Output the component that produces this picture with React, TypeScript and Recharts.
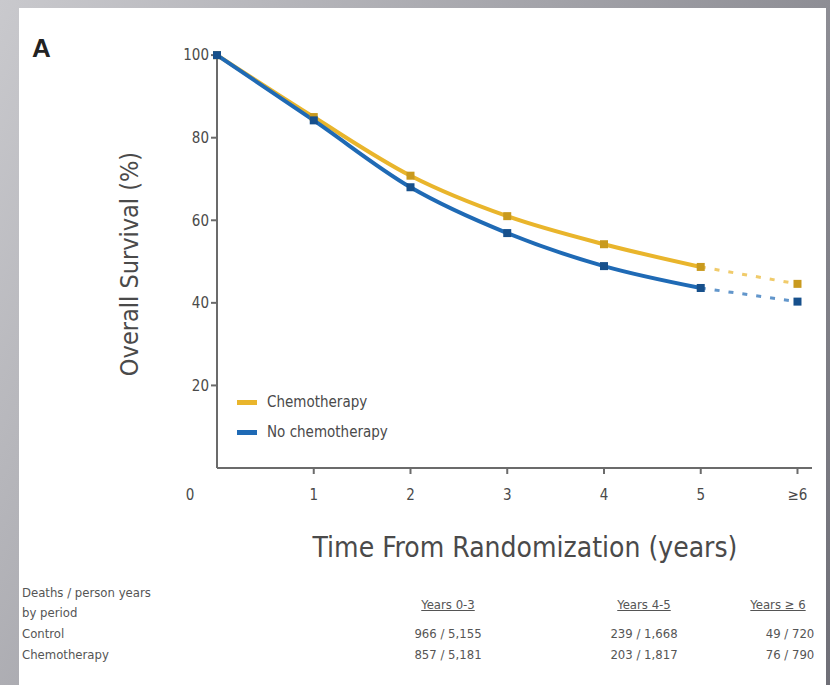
import React from 'react';
import {
  LineChart,
  Line,
  XAxis,
  YAxis,
} from 'recharts';

// time points (years), last one is the ">= 6" bucket
const years = [0, 1, 2, 3, 4, 5, 6];
const xTickLabels = ['0', '1', '2', '3', '4', '5', '≥6'];
const yTicks = [20, 40, 60, 80, 100];

// overall survival (%)
const chemoSurvival = [100, 85, 70.8, 61, 54.2, 48.7, 44.6];
const noChemoSurvival = [100, 84.2, 68, 56.9, 48.9, 43.6, 40.3];

const legendItems = [
  { label: 'Chemotherapy', color: '#E9B52C' },
  { label: 'No chemotherapy', color: '#1F6AB5' },
];

// deaths / person years table
const periodHeaders = ['Years 0-3', 'Years 4-5', 'Years ≥ 6'];
const controlDeaths = ['966 / 5,155', '239 / 1,668', '49 / 720'];
const chemoDeaths = ['857 / 5,181', '203 / 1,817', '76 / 790'];

const CHEMO = '#E9B52C';
const CHEMO_DOT = '#C99A1E';
const NOCHEMO = '#1F6AB5';
const NOCHEMO_DOT = '#17508C';
const AXIS = '#6b6b6b';
const TEXT = '#4a4a4a';
const NARROW = "'Liberation Sans Narrow', 'DejaVu Sans Condensed', Arial, sans-serif";

// solid part runs to year 5, the dashed tail from 5 to >=6
const data = years.map((t, i) => ({
  t,
  chemo: t <= 5 ? chemoSurvival[i] : null,
  chemoTail: t >= 5 ? chemoSurvival[i] : null,
  noChemo: t <= 5 ? noChemoSurvival[i] : null,
  noChemoTail: t >= 5 ? noChemoSurvival[i] : null,
}));

const squareDot = (color: string, onlyLast = false) => (props: any) => {
  const { cx, cy, payload, index } = props;
  if (cx == null || cy == null || (onlyLast && payload.t !== 6)) {
    return <g key={`d-${index}`} />;
  }
  return <rect key={`d-${index}`} x={cx - 4} y={cy - 4} width={8} height={8} fill={color} />;
};

const XTick = (props: any) => {
  const { x, y, payload } = props;
  const i = years.indexOf(payload.value);
  const dx = payload.value === 0 ? -27 : 0;
  return (
    <g>
      {payload.value !== 0 && <line x1={x} x2={x} y1={y - 8} y2={y - 2} stroke={AXIS} strokeWidth={2} />}
      <text x={x + dx} y={y + 24} textAnchor="middle" fontSize={15} fill={TEXT} fontFamily={NARROW}>
        {xTickLabels[i]}
      </text>
    </g>
  );
};

const tableText: React.CSSProperties = {
  position: 'absolute',
  fontFamily: NARROW,
  fontSize: 13,
  color: '#555',
  whiteSpace: 'nowrap',
};

const colCenters = [448, 644, 778];

export default function App() {
  return (
    <div
      style={{
        position: 'absolute',
        left: 0,
        top: 0,
        width: 830,
        height: 685,
        background: 'linear-gradient(120deg, #c9c9cd 0%, #a3a3a9 45%, #6f6f77 100%)',
        overflow: 'hidden',
      }}
    >
      <div style={{ position: 'absolute', left: 19, top: 8, width: 807, height: 677, background: '#ffffff' }} />

      <div style={{ position: 'absolute', left: 0, top: 0 }}>
        <LineChart
          width={830}
          height={685}
          data={data}
          margin={{ top: 51, right: 18, left: 157, bottom: 187 }}
        >
          <XAxis
            dataKey="t"
            type="number"
            domain={[0, 6.15]}
            ticks={years}
            tick={<XTick />}
            tickLine={false}
            axisLine={{ stroke: AXIS, strokeWidth: 2 }}
            height={30}
          />
          <YAxis
            type="number"
            domain={[0, 101]}
            ticks={yTicks}
            width={60}
            axisLine={{ stroke: AXIS, strokeWidth: 2 }}
            tickLine={{ stroke: AXIS, strokeWidth: 2 }}
            tickSize={6}
            tick={{ fontSize: 15, fill: TEXT, fontFamily: NARROW }}
          />
          <Line type="monotone" dataKey="chemo" stroke={CHEMO} strokeWidth={4} dot={squareDot(CHEMO_DOT)} connectNulls={false} isAnimationActive={false} />
          <Line type="monotone" dataKey="chemoTail" stroke={CHEMO} strokeWidth={3} strokeDasharray="5 9" strokeOpacity={0.7} dot={squareDot(CHEMO_DOT, true)} isAnimationActive={false} />
          <Line type="monotone" dataKey="noChemo" stroke={NOCHEMO} strokeWidth={4} dot={squareDot(NOCHEMO_DOT)} connectNulls={false} isAnimationActive={false} />
          <Line type="monotone" dataKey="noChemoTail" stroke={NOCHEMO} strokeWidth={3} strokeDasharray="5 9" strokeOpacity={0.7} dot={squareDot(NOCHEMO_DOT, true)} isAnimationActive={false} />
        </LineChart>
      </div>

      {/* legend inside the plot, lower left */}
      <div style={{ position: 'absolute', left: 237, top: 387, fontFamily: NARROW, fontSize: 15, color: TEXT }}>
        {legendItems.map((item) => (
          <div key={item.label} style={{ display: 'flex', alignItems: 'center', height: 30 }}>
            <span style={{ display: 'inline-block', width: 20, height: 5, background: item.color, marginRight: 10 }} />
            {item.label}
          </div>
        ))}
      </div>

      {/* panel letter and axis titles */}
      <div style={{ position: 'absolute', left: 32, top: 33, fontFamily: 'Arial, sans-serif', fontWeight: 700, fontSize: 26, color: '#222' }}>
        A
      </div>
      <svg style={{ position: 'absolute', left: 0, top: 0 }} width={830} height={685}>
        <text
          transform="translate(138, 264) rotate(-90)"
          textAnchor="middle"
          fontSize={25}
          fill={TEXT}
          fontFamily={NARROW}
        >
          Overall Survival (%)
        </text>
        <text x={525} y={557} textAnchor="middle" fontSize={28} fill={TEXT} fontFamily={NARROW}>
          Time From Randomization (years)
        </text>
      </svg>

      {/* deaths / person years by period */}
      <div style={{ ...tableText, left: 22, top: 585 }}>Deaths / person years</div>
      <div style={{ ...tableText, left: 22, top: 605 }}>by period</div>
      <div style={{ ...tableText, left: 22, top: 626 }}>Control</div>
      <div style={{ ...tableText, left: 22, top: 647 }}>Chemotherapy</div>
      {periodHeaders.map((h, i) => (
        <div key={h} style={{ ...tableText, left: colCenters[i] - 50, width: 100, textAlign: 'center', top: 597, textDecoration: 'underline' }}>
          {h}
        </div>
      ))}
      {controlDeaths.map((v, i) => (
        <div key={`c-${i}`} style={{ ...tableText, left: colCenters[i] - 50 + (i === 2 ? 12 : 0), width: 100, textAlign: 'center', top: 626 }}>
          {v}
        </div>
      ))}
      {chemoDeaths.map((v, i) => (
        <div key={`h-${i}`} style={{ ...tableText, left: colCenters[i] - 50 + (i === 2 ? 12 : 0), width: 100, textAlign: 'center', top: 647 }}>
          {v}
        </div>
      ))}
    </div>
  );
}
